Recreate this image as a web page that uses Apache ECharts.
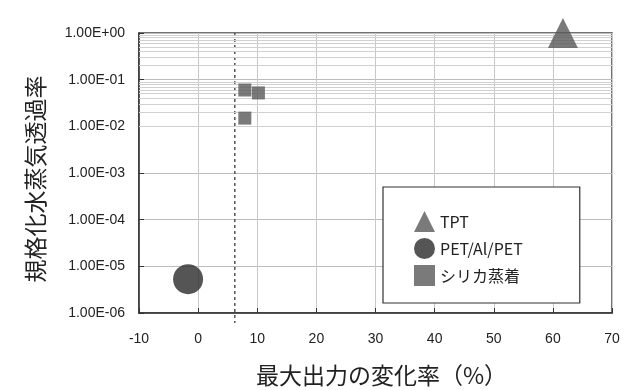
<!DOCTYPE html>
<html><head><meta charset="utf-8">
<script src="https://cdn.jsdelivr.net/npm/echarts@6/dist/echarts.min.js"></script>
<style>html,body{margin:0;padding:0;background:#fff}#c{width:633px;height:390px}</style>
</head><body><div id="c"></div>
<script>
const seriesNames = ['TPT', 'PET/Al/PET', 'シリカ蒸着'];
const tptData = [[61.7, 1.0]];
const petData = [[-1.7, 5.3e-6]];
const silicaData = [[7.9, 0.060], [10.2, 0.052], [7.9, 0.015]];
const xTicks = [-10, 0, 10, 20, 30, 40, 50, 60, 70];
const yDecades = [-6, -5, -4, -3, -2, -1, 0];
const refLineX = 6.2;
const xTitle = '最大出力の変化率（%）';
const yTitle = '規格化水蒸気透過率';

const minorValues = [];
yDecades.slice(0, -1).forEach(e => { for (let m = 2; m <= 9; m++) minorValues.push(m * Math.pow(10, e)); });

const chart = echarts.init(document.getElementById('c'));
const fmtE = v => { const e = Math.round(Math.log10(v)); return '1.00E' + (e < 0 ? '-' : '+') + String(Math.abs(e)).padStart(2, '0'); };
chart.setOption({
  animation: false,
  grid: { left: 139, right: 21, top: 33, bottom: 77, show: true, borderColor: '#444', borderWidth: 1.5, containLabel: false, outerBoundsMode: 'none' },
  xAxis: {
    type: 'value', min: xTicks[0], max: xTicks[xTicks.length - 1], interval: 10,
    axisLine: { show: true, onZero: false, lineStyle: { color: '#333', width: 1.5 } },
    axisTick: { show: true, inside: true, length: 5, lineStyle: { color: '#333' } },
    axisLabel: { color: '#222', fontSize: 14, fontFamily: 'Liberation Sans', margin: 19 },
    splitLine: { show: true, lineStyle: { color: '#c8c8c8', width: 1 } },
    name: xTitle, nameLocation: 'middle', nameGap: 51,
    nameTextStyle: { fontSize: 23, color: '#222', fontFamily: 'Noto Sans CJK JP', padding: [0, 0, 0, 12] }
  },
  yAxis: {
    type: 'log', logBase: 10, min: Math.pow(10, yDecades[0]), max: Math.pow(10, yDecades[yDecades.length - 1]), interval: 1,
    axisLine: { show: true, onZero: false, lineStyle: { color: '#333', width: 1.5 } },
    axisTick: { show: true, inside: true, length: 5, lineStyle: { color: '#333' } },
    axisLabel: { color: '#222', fontSize: 14, fontFamily: 'Liberation Sans', margin: 14, formatter: fmtE },
    splitLine: { show: true, lineStyle: { color: '#bdbdbd', width: 1 } },
    name: yTitle, nameLocation: 'middle', nameGap: 92, nameRotate: 90,
    nameTextStyle: { fontSize: 23, color: '#222', fontFamily: 'Noto Sans CJK JP', padding: [0, 12, 0, 0] }
  },
  legend: {
    orient: 'vertical', left: 383, top: 187, itemWidth: 21, itemHeight: 21, itemGap: 6,
    padding: [24, 57, 17, 31], backgroundColor: '#fff', borderColor: '#333', borderWidth: 1.2,
    textStyle: { fontSize: 16, color: '#222', fontFamily: 'Noto Sans CJK JP' },
    data: [{ name: seriesNames[0], icon: 'triangle' }, { name: seriesNames[1], icon: 'circle' }, { name: seriesNames[2], icon: 'rect' }]
  },
  series: [
    { type: 'scatter', name: '_grid', data: [], silent: true,
      markLine: { silent: true, symbol: 'none', label: { show: false },
        lineStyle: { color: '#d0d0d0', width: 1, type: 'solid' },
        data: minorValues.map(v => ({ yAxis: v })) } },
    { type: 'scatter', name: seriesNames[0], symbol: 'triangle', symbolSize: [30, 30], itemStyle: { color: '#595959' }, data: tptData, z: 5 },
    { type: 'scatter', name: seriesNames[1], symbol: 'circle', symbolSize: 30, itemStyle: { color: '#2b2b2b' }, data: petData, z: 5 },
    { type: 'scatter', name: seriesNames[2], symbol: 'rect', symbolSize: 13, itemStyle: { color: '#595959' }, data: silicaData, z: 5 }
  ]
});
const pTop = chart.convertToPixel({ xAxisIndex: 0, yAxisIndex: 0 }, [refLineX, Math.pow(10, yDecades[yDecades.length - 1])]);
const pBot = chart.convertToPixel({ xAxisIndex: 0, yAxisIndex: 0 }, [refLineX, Math.pow(10, yDecades[0])]);
chart.setOption({ graphic: [{ type: 'line', shape: { x1: pTop[0], y1: pTop[1], x2: pBot[0], y2: pBot[1] + 10 },
  style: { stroke: '#555', lineWidth: 1.5, lineDash: [3, 3] }, z: 3 }] });
</script></body></html>
